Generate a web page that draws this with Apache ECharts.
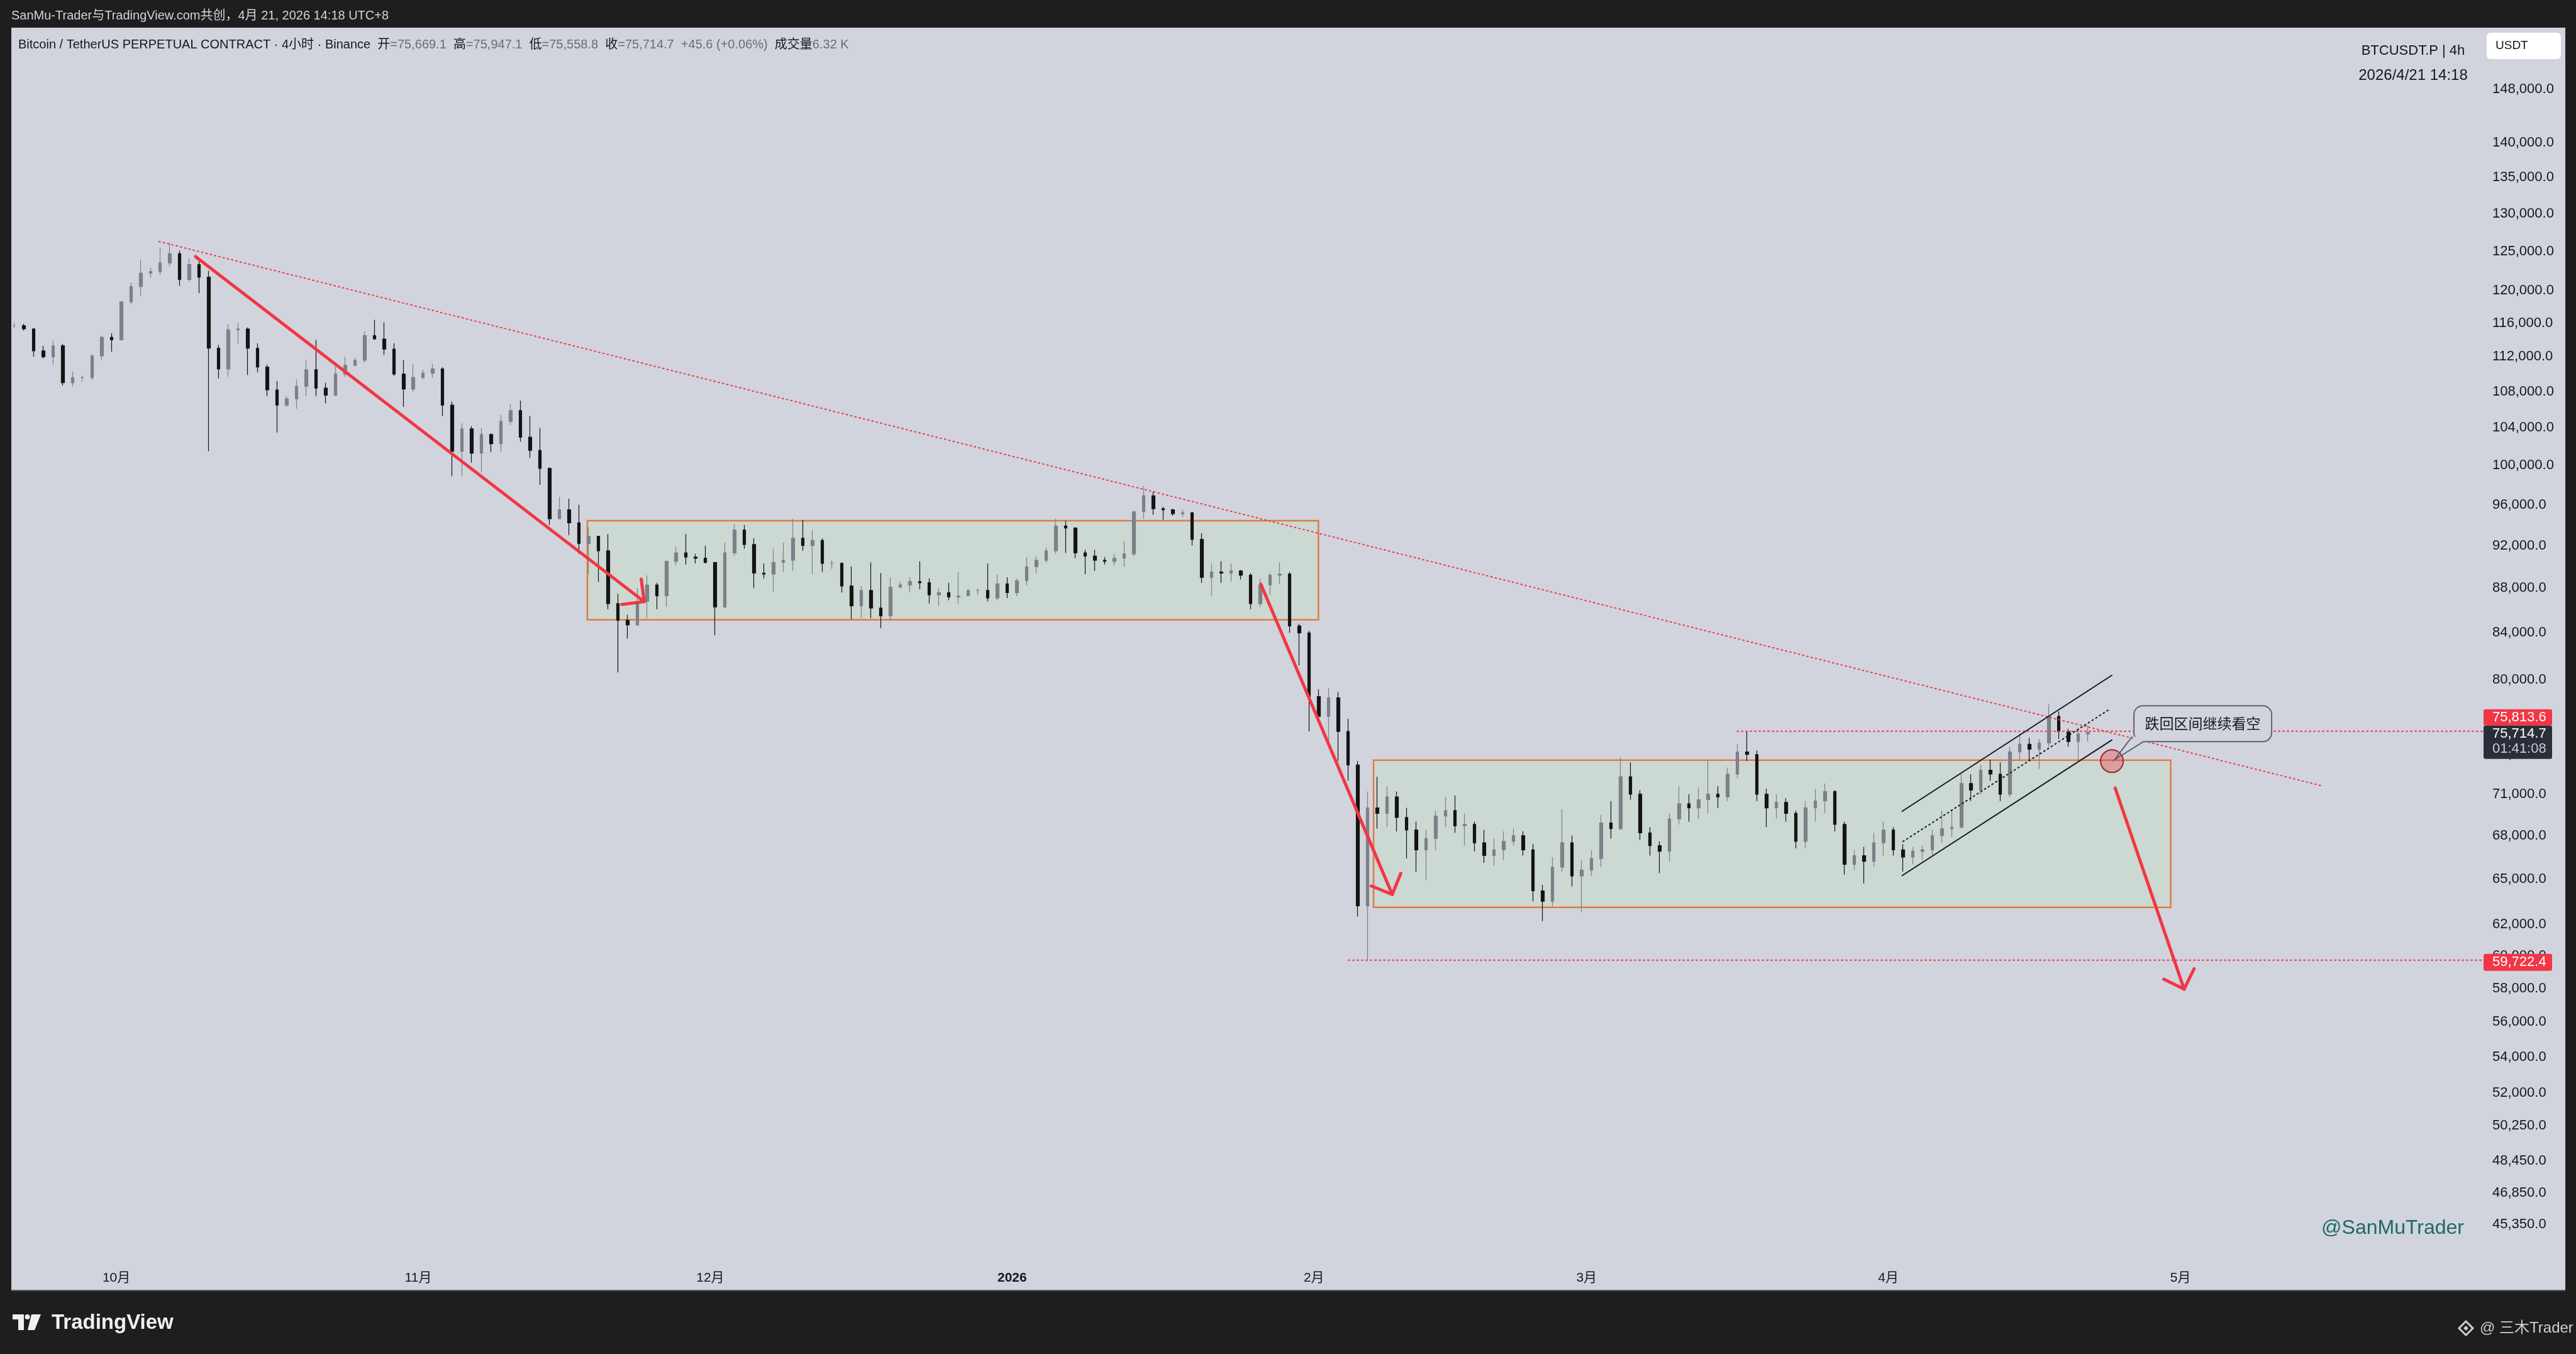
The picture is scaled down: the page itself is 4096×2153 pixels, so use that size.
<!DOCTYPE html>
<html><head><meta charset="utf-8">
<script src="https://cdn.jsdelivr.net/npm/echarts@6/dist/echarts.min.js"></script>
<style>html,body{margin:0;padding:0;background:#1e1e1e;overflow:hidden}#c{width:4096px;height:2153px}</style>
</head><body><div id="c"></div>
<script>
// ---------- DATA (daily candles, USDT) ----------
const startDate = [2025, 8, 20]; // 2025-09-20, one candle per day
const openP = [
115700,115700,115300,112700,112000,113300,109000,109600,109600,112100,114300,
114000,118600,120500,122200,122400,123500,124700,121400,123300,121700,113000,110600,115200,115300,113000,110800,108200,106500,107200,108600,110500,108400,107600,110000,111000,111600,114500,114100,112900,110000,108300,
109600,110100,110600,106500,101500,103900,101300,103300,102300,104700,105900,103000,101600,99700,94600,95500,94200,92200,92900,91500,86600,85100,84700,86800,88300,87300,90500,91300,90900,90800,
90400,86300,91300,93500,92100,89400,89300,90400,90600,92700,92000,92500,90300,90300,88200,86400,87800,86200,85500,88100,88300,88600,88500,87400,87600,87200,87300,87800,87800,87100,88400,
87600,88700,90000,90600,91500,93900,93700,91300,91000,90600,90500,90800,91200,95300,96900,95600,95500,95100,95200,92600,89000,89500,89400,89600,89200,86600,88300,89200,89300,84600,84000,
78600,77000,78500,75800,73200,63200,70000,69600,70800,69300,68400,67000,67800,69400,69800,68700,68800,67500,66600,67000,67600,68000,67000,64200,63500,65800,67500,65200,
65600,66400,68900,68500,72300,71000,68200,67300,66900,69200,70300,70000,70600,71000,70800,72500,74200,74000,71000,70000,70400,69600,67600,70000,70500,71200,68800,66000,66600,66200,67500,
68400,67000,66500,66900,67000,68000,68500,68600,71800,71300,72800,72500,71000,74200,74800,74400,74900,77000,75800,75000,75600];
const closeP = [
115700,115300,112700,112000,113300,109000,109600,109600,112100,114300,114000,
118600,120500,122200,122400,123500,124700,121400,123300,121700,113000,110600,115200,115300,113000,110800,108200,106500,107200,108600,110500,108400,107600,110000,111000,111600,114500,114100,112900,110000,108300,109600,
110100,110600,106500,101500,103900,101300,103300,102300,104700,105900,103000,101600,99700,94600,95500,94200,92200,92900,91500,86600,85100,84700,86800,88300,87300,90500,91300,90900,90800,90400,
86300,91300,93500,92100,89400,89300,90400,90600,92700,92000,92500,90300,90300,88200,86400,87800,86200,85500,88100,88300,88600,88500,87400,87600,87200,87300,87800,87800,87100,88400,87600,
88700,90000,90600,91500,93900,93700,91300,91000,90600,90500,90800,91200,95300,96900,95600,95500,95100,95200,92600,89000,89500,89400,89600,89200,86600,88300,89200,89300,84600,84000,78600,
77000,78500,75800,73200,63200,70000,69600,70800,69300,68400,67000,67800,69400,69800,68700,68800,67500,66600,67000,67600,68000,67000,64200,63500,65800,67500,65200,65600,
66400,68900,68500,72300,71000,68200,67300,66900,69200,70300,70000,70600,71000,70800,72500,74200,74000,71000,70000,70400,69600,67600,70000,70500,71200,68800,66000,66600,66200,67500,68400,
67000,66500,66900,67000,68000,68500,68600,71800,71300,72800,72500,71000,74200,74800,74400,74900,77000,75800,75000,75600,75714.7];
const highP = [
116100,115900,115400,113300,113900,113500,110300,109800,112300,114500,114800,
118600,121000,123900,122900,125500,126200,125100,124100,123700,122500,113400,115900,116000,115500,113600,111100,109200,107500,109400,111700,114000,109000,111000,112000,111900,115000,116400,116100,113600,111600,111200,
110500,111200,110800,106900,104500,104200,104000,103400,105400,106600,107000,105300,104000,99800,96800,96600,96000,93800,92900,93100,87500,85600,88000,89200,88500,90600,91900,93100,91200,92000,
90400,92300,94100,94000,92700,90300,91700,92300,94600,94500,93500,92700,90600,90400,90000,88200,90400,89400,89000,88600,89000,90500,88900,88000,88500,89500,87900,88000,90300,89300,89000,
88900,90900,91000,91800,94600,94400,93800,91600,91600,90900,91200,92400,95400,97900,97300,95800,95600,95500,95300,93200,90300,90500,90300,89700,89400,88900,89400,90400,89500,84800,84200,
79200,79300,79000,76800,73500,71200,72300,71600,71200,70000,69000,68400,69800,70800,70900,69600,69000,68400,67800,68300,68500,68300,67400,64600,66500,69900,68000,66300,
67000,69500,70500,73800,73400,71300,68600,67600,69600,71600,71000,71500,73600,71600,73000,74800,75813.6,74300,71400,71000,70700,69800,70500,71400,71800,71300,69000,67000,67200,68200,69000,
68600,67400,67200,67300,68400,69800,69800,72600,72500,73200,73600,73400,74600,75600,75300,75200,78000,77400,76000,76100,76300];
const lowP = [
115400,115100,112000,111800,111100,108700,108600,109100,109300,111600,112600,
113900,118300,119300,121600,122000,123100,120600,121100,119700,101500,109500,109700,113500,109900,110200,107500,103500,106300,106100,107500,107500,106700,107500,109700,110900,111300,114000,112200,109800,106300,108000,
109400,109600,105300,98900,98900,100300,99300,101400,101400,104300,102500,100800,98000,94000,94600,93000,91200,89300,88600,86100,80600,83500,84600,85300,86100,86300,90100,90200,90300,90300,
83800,86200,91000,91700,88000,88900,87700,89500,89600,91500,89300,89500,89800,87600,85200,85300,85300,84400,85100,88000,87600,87900,86600,86400,86900,86600,87300,87400,86800,86900,87100,
87300,88300,89400,90400,91200,91300,90800,89300,89600,90200,90100,90000,91000,94600,95000,94500,94900,94800,92000,88500,87300,88500,88600,88800,86100,86300,87400,88400,84000,81200,75800,
76400,74600,73500,72000,62500,59722.4,68500,68600,68300,66400,65500,64900,67000,68600,68200,67300,66900,66100,65900,66300,67300,66600,63500,62200,63200,65500,64500,62800,
65200,65800,67800,68400,70600,67700,66600,65400,66200,68800,69000,69200,69600,70000,70500,72200,73500,70500,68600,69200,69000,67100,67100,69000,69600,68300,65300,65600,64700,65800,66600,
66600,65500,66000,66300,66600,67500,67900,68500,70500,71000,72000,70500,70800,73600,73600,72900,74600,75200,74600,73500,75000];
const priceTicks = [148000,140000,135000,130000,125000,120000,116000,112000,108000,104000,100000,96000,92000,88000,84000,80000,74000,71000,68000,65000,62000,60000,58000,56000,54000,52000,50250,48450,46850,45350];
const monthTicks = [[2025,10,'10月'],[2025,11,'11月'],[2025,12,'12月'],[2026,1,'2026'],[2026,2,'2月'],[2026,3,'3月'],[2026,4,'4月'],[2026,5,'5月']];
const lastPrice = 75714.7, rayHighPrice = 75813.6, rayLowPrice = 59722.4;

// ---------- drawing anchors (time, price) ----------
const T = (y,m,d,h)=>Date.UTC(y,m-1,d,h||0);
const xMin = Date.UTC(2025,8,20,5), xMax = T(2026,6,1,0);
const yMin = 43800, yMax = 157820;
const trendLine = [[T(2025,10,5,9),126300],[T(2026,5,15,13),71620]];
const rayHigh = [[T(2026,3,16,11),rayHighPrice],[xMax,rayHighPrice]];
const rayLow = [[T(2026,2,4,13),rayLowPrice],[xMax,rayLowPrice]];
const boxes = [[T(2025,11,18,9),94420,T(2026,2,1,11),85150],[T(2026,2,7,3),73560,T(2026,4,30,0),63110]];
const arrows = [
  [[T(2025,10,9,3),124330],[T(2025,11,24,5),86780]],
  [[T(2026,1,26,13),88380],[T(2026,2,9,1),63960]],
  [[T(2026,4,24,7),71460],[T(2026,5,1,9),57950]]];
const chUpper = [[T(2026,4,2,10),69750],[T(2026,4,23,23),80370]];
const chLower = [[T(2026,4,2,10),65230],[T(2026,4,23,23),75130]];
const chMid = [[T(2026,4,2,12),67590],[T(2026,4,23,19),77610]];
const marker = [T(2026,4,23,23),73490];

const DAY = 86400000;
const t0 = Date.UTC(startDate[0],startDate[1],startDate[2],12);
const candles = closeP.map((c,i)=>[t0+i*DAY, openP[i], c, lowP[i], highP[i]]);

const RED = '#f23645';
const FONT = '"Liberation Sans", "Noto Sans CJK SC", Arial, sans-serif';
function seg(data,color,width,type,z){return {type:'line',data,symbol:'none',silent:true,z:z||4,animation:false,lineStyle:{color,width,type:type||'solid',cap:'round'}};}

const chart = echarts.init(document.getElementById('c'),null,{width:4096,height:2153});
chart.setOption({
  animation:false,
  backgroundColor:'#1e1e1e',
  grid:{left:18,right:149,top:44,bottom:153,outerBoundsMode:'none',containLabel:false},
  xAxis:{type:'time',min:xMin,max:xMax,axisLine:{show:false},axisTick:{show:false},axisLabel:{show:false},splitLine:{show:false}},
  yAxis:{type:'log',logBase:10,min:yMin,max:yMax,axisLine:{show:false},axisTick:{show:false},axisLabel:{show:false},splitLine:{show:false}},
  series:[
    {type:'candlestick',data:candles,encode:{x:0,y:[1,2,3,4]},barWidth:5,z:3,silent:true,
     itemStyle:{color:'#7d8089',color0:'#141414',borderColor:'#7d8089',borderColor0:'#141414',borderWidth:1.2},
     markArea:{silent:true,itemStyle:{color:'#ccd8d2',borderColor:'#e27a45',borderWidth:2.5},
       data:boxes.map(b=>[{coord:[b[0],b[1]]},{coord:[b[2],b[3]]}])}},
    seg(trendLine,RED,2,[2,5]),
    seg(rayHigh,RED,2,[2,5]),
    seg(rayLow,RED,2,[2,5]),
    seg(chUpper,'#131722',2),
    seg(chLower,'#131722',2),
    seg(chMid,'#131722',2,[2,5]),
    ...arrows.map(a=>seg(a,RED,5,'solid',6))
  ]
});

const px = p=>chart.convertToPixel({gridIndex:0},p);
function txt(x,y,text,font,color,align,z){return {type:'text',z:z||100,silent:true,style:{x,y,text,font,fill:color,textAlign:align||'left',align:align||'left',textVerticalAlign:'middle',verticalAlign:'middle'}};}
const g = [];
// frame
g.push({type:'rect',z:-10,silent:true,shape:{x:18,y:44,width:4061,height:2008},style:{fill:'#d1d4dc'}});
g.push({type:'rect',z:-9,silent:true,shape:{x:18,y:2051,width:4061,height:2},style:{fill:'#55575e'}});
// top bar text
g.push(txt(18,25,'SanMu-Trader与TradingView.com共创，4月 21, 2026 14:18 UTC+8','20px '+FONT,'#d1d4dc'));
// legend
g.push({type:'text',z:100,silent:true,style:{x:29,y:71,font:'20px '+FONT,fill:'#131722',textAlign:'left',align:'left',textVerticalAlign:'middle',verticalAlign:'middle',
  text:'{n|Bitcoin / TetherUS PERPETUAL CONTRACT · 4小时 · Binance}  {n|开}{v|=75,669.1}  {n|高}{v|=75,947.1}  {n|低}{v|=75,558.8}  {n|收}{v|=75,714.7}  {v|+45.6 (+0.06%)}  {n|成交量}{v|6.32 K}',
  rich:{n:{fill:'#131722',font:'20px '+FONT},v:{fill:'#6a6d78',font:'20px '+FONT}}}});
// top right info
g.push(txt(3837,81,'BTCUSDT.P | 4h','22px '+FONT,'#131722','center'));
g.push(txt(3837,120,'2026/4/21 14:18','24px '+FONT,'#131722','center'));
g.push({type:'rect',z:100,silent:true,shape:{x:3954,y:52,width:118,height:42,r:6},style:{fill:'#ffffff'}});
g.push(txt(3968,73,'USDT','19px '+FONT,'#131722'));
// price axis labels
priceTicks.forEach(v=>{const y=px([xMin,v])[1]; if(y>44&&y<2000) g.push(txt(3963,y,v.toLocaleString('en-US',{minimumFractionDigits:1,maximumFractionDigits:1}),'22px '+FONT,'#131722'));});
// time axis labels
monthTicks.forEach(m=>{const x=px([T(m[0],m[1],1,0),60000])[0]; g.push(txt(x,2032,m[2],(m[2]==='2026'?'bold ':'')+'21px '+FONT,'#131722','center'));});
// badges
const fmt = v=>v.toLocaleString('en-US',{minimumFractionDigits:1,maximumFractionDigits:1});
const pyH = px([xMin,rayHighPrice])[1];
g.push({type:'rect',z:110,silent:true,shape:{x:3949,y:pyH-35,width:109,height:26,r:3},style:{fill:RED}});
g.push(txt(3963,pyH-22,fmt(rayHighPrice),'22px '+FONT,'#ffffff','left',111));
g.push({type:'rect',z:110,silent:true,shape:{x:3949,y:pyH-9,width:109,height:53,r:3},style:{fill:'#2a2e39'}});
g.push(txt(3963,pyH+4,fmt(lastPrice),'22px '+FONT,'#ffffff','left',111));
g.push(txt(3963,pyH+28,'01:41:08','22px '+FONT,'#c9ccd4','left',111));
const pyL = px([xMin,rayLowPrice])[1];
g.push({type:'rect',z:110,silent:true,shape:{x:3949,y:pyL-10,width:109,height:27,r:3},style:{fill:RED}});
g.push(txt(3963,pyL+3.5,fmt(rayLowPrice),'22px '+FONT,'#ffffff','left',111));
// arrowheads
arrows.forEach(a=>{const p1=px(a[0]),p2=px(a[1]);const ang=Math.atan2(p2[1]-p1[1],p2[0]-p1[0])+Math.PI;const L=36,s=Math.PI/4;
  const a1=[p2[0]+L*Math.cos(ang-s),p2[1]+L*Math.sin(ang-s)],a2=[p2[0]+L*Math.cos(ang+s),p2[1]+L*Math.sin(ang+s)];
  g.push({type:'polyline',z:90,silent:true,shape:{points:[a1,p2,a2]},style:{stroke:RED,lineWidth:5,lineCap:'round',lineJoin:'round',fill:null}});});
// marker circle + callout
const c = px(marker); const cx=c[0], cy=c[1];
g.push({type:'circle',z:80,silent:true,shape:{cx,cy,r:18},style:{fill:'rgba(242,54,69,0.35)',stroke:'#9e2430',lineWidth:2}});
g.push({type:'rect',z:82,silent:true,shape:{x:cx+35,y:cy-88,width:219,height:57,r:14},style:{fill:'#d1d4dc',stroke:'#5f6370',lineWidth:2}});
g.push({type:'polygon',z:83,silent:true,shape:{points:[[cx+31,cy-41],[cx+52,cy-32.5],[cx+40,cy-28]]},style:{fill:'#d1d4dc'}});
g.push({type:'polyline',z:84,silent:true,shape:{points:[[cx+32,cy-39],[cx+4,cy-2],[cx+50,cy-31]]},style:{stroke:'#5f6370',lineWidth:2,fill:null}});
g.push(txt(cx+144.5,cy-60,'跌回区间继续看空','23px "Noto Sans CJK SC", sans-serif','#131722','center',85));
// watermark
g.push(txt(3918,1953,'@SanMuTrader','32px '+FONT,'#1d6a66','right'));
// bottom bar
g.push({type:'rect',z:100,silent:true,shape:{x:20,y:2090,width:18,height:8},style:{fill:'#f0f0f0'}});
g.push({type:'rect',z:100,silent:true,shape:{x:29,y:2090,width:9,height:25},style:{fill:'#f0f0f0'}});
g.push({type:'circle',z:100,silent:true,shape:{cx:43.5,cy:2094,r:4},style:{fill:'#f0f0f0'}});
g.push({type:'polygon',z:100,silent:true,shape:{points:[[50,2090],[65,2090],[55,2115],[44,2115]]},style:{fill:'#f0f0f0'}});
g.push(txt(82,2104,'TradingView','bold 33px '+FONT,'#f0f0f0'));
g.push({type:'polygon',z:100,silent:true,shape:{points:[[3921,2101],[3932,2112],[3921,2123],[3910,2112]]},style:{fill:null,stroke:'#cfcfcf',lineWidth:3}});
g.push({type:'polygon',z:100,silent:true,shape:{points:[[3921,2108],[3925,2112],[3921,2116],[3917,2112]]},style:{fill:'#cfcfcf'}});
g.push(txt(3943,2112,'@ 三木Trader','24px '+FONT,'#cfcfcf'));
chart.setOption({graphic:{elements:g}});
</script>
</body></html>
